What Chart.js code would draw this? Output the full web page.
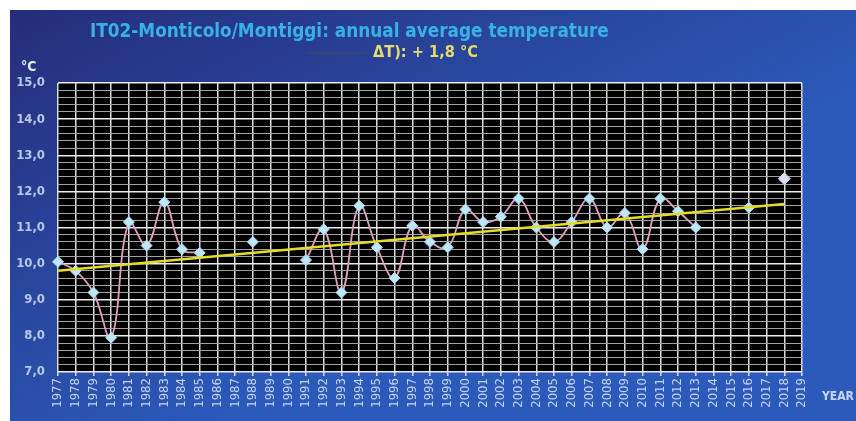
<!DOCTYPE html>
<html>
<head>
<meta charset="utf-8">
<script src="https://cdn.jsdelivr.net/npm/chart.js@4/dist/chart.umd.min.js"></script>
<style>
  html, body { margin: 0; padding: 0; background: #fff; }
  #wrap { position: absolute; left: 10px; top: 10px; }
</style>
</head>
<body>
<div id="wrap"><canvas id="tempChart" width="846" height="411"></canvas></div>
<script>
const years = ['1977','1978','1979','1980','1981','1982','1983','1984','1985','1986',
  '1987','1988','1989','1990','1991','1992','1993','1994','1995','1996',
  '1997','1998','1999','2000','2001','2002','2003','2004','2005','2006',
  '2007','2008','2009','2010','2011','2012','2013','2014','2015','2016',
  '2017','2018','2019'];

// annual average temperature, °C (null = no data)
const temps = [10.05, 9.8, 9.2, 7.95, 11.15, 10.5, 11.7, 10.4, 10.3, null,
  null, 10.6, null, null, 10.1, 10.95, 9.2, 11.6, 10.45, 9.6,
  11.05, 10.6, 10.45, 11.5, 11.15, 11.3, 11.8, 11.0, 10.6, 11.15,
  11.8, 11.0, 11.4, 10.4, 11.8, 11.45, 11.0, null, null, 11.55,
  null, 12.35, null];

// linear trend end points
const trendYears = ['1977', '2018'];
const trendValues = [9.8, 11.65];

const titleText = 'IT02-Monticolo/Montiggi: annual average temperature';
const deltaText = '\u0394T): + 1,8 \u00B0C';
const fam = "'DejaVu Sans Condensed', 'DejaVu Sans'";

const isWhole = v => Math.abs(v - Math.round(v)) < 1e-6;

// draw text so that it spans a given width
function fitText(ctx, text, x, y, w, base) {
  ctx.font = 'bold ' + base + 'px ' + fam;
  const size = base * w / ctx.measureText(text).width;
  ctx.font = 'bold ' + size.toFixed(1) + 'px ' + fam;
  ctx.fillText(text, x, y);
}

const backdrop = {
  id: 'backdrop',
  beforeDraw(chart) {
    const { ctx, chartArea: a, width, height } = chart;
    ctx.save();
    const g = ctx.createLinearGradient(0, 0, width * 0.25, height);
    g.addColorStop(0, '#262d7a');
    g.addColorStop(1, '#2b5aba');
    ctx.fillStyle = g;
    ctx.fillRect(0, 0, width, height);
    ctx.fillStyle = '#000';
    ctx.fillRect(a.left, a.top, a.right - a.left, a.bottom - a.top);
    ctx.restore();
  },
  afterDraw(chart) {
    const { ctx } = chart;
    ctx.save();
    ctx.textBaseline = 'middle';
    // title
    ctx.fillStyle = '#38b2e4';
    fitText(ctx, titleText, 80, 22, 518, 17);
    // faint legend line + delta
    ctx.strokeStyle = '#3c4274';
    ctx.lineWidth = 2;
    ctx.beginPath();
    ctx.moveTo(298, 43);
    ctx.lineTo(360, 43);
    ctx.stroke();
    ctx.fillStyle = '#e6dc6a';
    fitText(ctx, deltaText, 363, 43, 105, 14);
    // unit
    ctx.fillStyle = '#e4ecfa';
    ctx.font = 'bold 14px ' + fam;
    ctx.fillText('\u00B0C', 11, 57);
    // axis name
    ctx.fillStyle = '#c8d8f2';
    ctx.font = 'bold 12px ' + fam;
    ctx.fillText('YEAR', 812, 387);
    ctx.restore();
  }
};

new Chart(document.getElementById('tempChart'), {
  type: 'line',
  data: {
    labels: years,
    datasets: [
      {
        label: 'Trend',
        data: trendYears.map((y, i) => ({ x: y, y: trendValues[i] })),
        borderColor: '#e4dc28',
        borderWidth: 2.5,
        pointRadius: 0,
        tension: 0,
        order: 0
      },
      {
        label: 'T',
        data: temps,
        borderColor: '#e0a0bc',
        borderWidth: 1.8,
        tension: 0.4,
        spanGaps: false,
        pointStyle: 'rectRot',
        pointRadius: ctx => ctx.dataIndex === 41 ? 6 : 5.5,
        pointBackgroundColor: ctx => ctx.dataIndex === 41 ? '#d8e0ea' : '#bfe6f6',
        pointBorderColor: ctx => ctx.dataIndex === 41 ? '#c8d2de' : '#a6daf0',
        pointBorderWidth: 1,
        order: 1
      }
    ]
  },
  options: {
    responsive: false,
    animation: false,
    layout: { padding: { left: 0, top: 73, right: 54, bottom: 0 } },
    plugins: {
      legend: { display: false },
      title: { display: false },
      tooltip: { enabled: false }
    },
    scales: {
      x: {
        offset: false,
        afterFit: s => { s.height = 49; },
        border: { display: false },
        grid: { color: '#dcdcdc', lineWidth: 1.5, drawTicks: true, tickLength: 4 },
        ticks: {
          autoSkip: false,
          minRotation: 90,
          maxRotation: 90,
          padding: 2,
          color: '#c4d4f0',
          font: { family: fam, size: 13 }
        }
      },
      y: {
        min: 7,
        max: 15,
        afterFit: s => { s.width = 48; },
        border: { display: false },
        grid: {
          drawTicks: false,
          color: ctx => isWhole(ctx.tick.value) ? '#ececec' : '#a2a2a2',
          lineWidth: ctx => isWhole(ctx.tick.value) ? 1.5 : 1
        },
        ticks: {
          stepSize: 0.2,
          autoSkip: false,
          padding: 13,
          color: '#b8c8ea',
          font: { family: fam, size: 13, weight: 'bold' },
          callback: v => isWhole(v) ? Math.round(v).toFixed(1).replace('.', ',') : ''
        }
      }
    }
  },
  plugins: [backdrop]
});
</script>
</body>
</html>
